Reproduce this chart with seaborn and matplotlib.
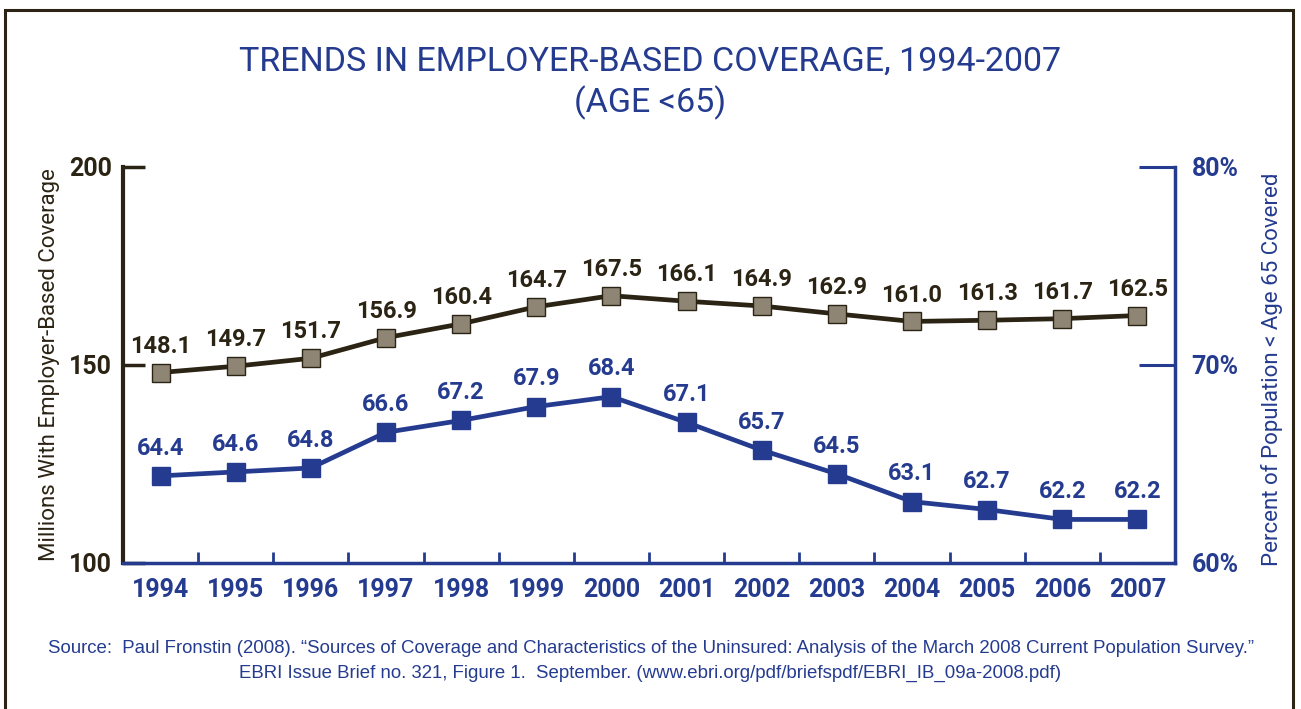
import matplotlib
matplotlib.use("Agg")
import matplotlib.pyplot as plt
from matplotlib.patches import Rectangle
from matplotlib.ticker import FixedLocator, FuncFormatter
import seaborn as sns
import pandas as pd

# Data
years = ["1994", "1995", "1996", "1997", "1998", "1999", "2000",
         "2001", "2002", "2003", "2004", "2005", "2006", "2007"]
millions_covered = [148.1, 149.7, 151.7, 156.9, 160.4, 164.7, 167.5,
                    166.1, 164.9, 162.9, 161.0, 161.3, 161.7, 162.5]
percent_covered = [64.4, 64.6, 64.8, 66.6, 67.2, 67.9, 68.4,
                   67.1, 65.7, 64.5, 63.1, 62.7, 62.2, 62.2]
left_ticks = [100, 150, 200]
right_ticks = [60, 70, 80]

title = "TRENDS IN EMPLOYER-BASED COVERAGE, 1994-2007\n(AGE <65)"
left_label = "Millions With Employer-Based Coverage"
right_label = "Percent of Population < Age 65 Covered"
source = ("Source:  Paul Fronstin (2008). \u201cSources of Coverage and Characteristics "
          "of the Uninsured: Analysis of the March 2008 Current Population Survey.\u201d\n"
          "EBRI Issue Brief no. 321, Figure 1.  September. "
          "(www.ebri.org/pdf/briefspdf/EBRI_IB_09a-2008.pdf)")

DARK = "#2b2313"
MARKER_GRAY = "#8e8574"
BLUE = "#243b8f"
MAIN_FONT = ["Roboto", "DejaVu Sans"]

df = pd.DataFrame({"idx": range(len(years)), "year": years,
                   "millions": millions_covered, "percent": percent_covered})

sns.set_theme(style="white")
plt.rcParams["font.family"] = MAIN_FONT

fig = plt.figure(figsize=(13.01, 7.09), dpi=100)
ax = fig.add_axes([123 / 1301, 1 - 563 / 709, (1175 - 123) / 1301, (563 - 167) / 709])
ax2 = ax.twinx()

# Outer frame
fig.patches.append(Rectangle((5 / 1301, -0.05), (1293 - 5) / 1301, 1.05 - 10 / 709,
                             transform=fig.transFigure, fill=False,
                             edgecolor=DARK, linewidth=2.2, zorder=0))

# Millions series (left axis)
sns.lineplot(data=df, x="idx", y="millions", ax=ax, color=DARK, linewidth=3.4,
             marker="s", markersize=12.5, markerfacecolor=MARKER_GRAY,
             markeredgecolor=DARK, markeredgewidth=1.0)
for i, v in zip(df["idx"], millions_covered):
    ax.annotate(f"{v:.1f}", (i, v), xytext=(0, 19), textcoords="offset points",
                ha="center", va="center", fontsize=17, fontweight="bold", color=DARK)

# Percent series (right axis)
sns.lineplot(data=df, x="idx", y="percent", ax=ax2, color=BLUE, linewidth=3.4,
             marker="s", markersize=12.5, markerfacecolor=BLUE,
             markeredgecolor=BLUE, markeredgewidth=1.0)
for i, v in zip(df["idx"], percent_covered):
    ax2.annotate(f"{v:.1f}", (i, v), xytext=(0, 20), textcoords="offset points",
                 ha="center", va="center", fontsize=17, fontweight="bold", color=BLUE)

ax.set_xlim(-0.5, len(years) - 0.5)
ax.set_ylim(left_ticks[0], left_ticks[-1])
ax2.set_ylim(right_ticks[0], right_ticks[-1])

# X axis: labels at category centers, tick marks between categories
ax.xaxis.set_major_locator(FixedLocator(list(range(len(years)))))
ax.set_xticklabels(years)
ax.xaxis.set_minor_locator(FixedLocator([i + 0.5 for i in range(len(years) - 1)]))
ax.tick_params(axis="x", which="major", length=0, pad=11, labelsize=18,
               labelcolor=BLUE)
ax.tick_params(axis="x", which="minor", direction="in", length=8, width=2,
               color=BLUE, bottom=True)
for lbl in ax.get_xticklabels():
    lbl.set_fontweight("bold")
ax.set_xlabel("")

# Left axis
ax.set_yticks(left_ticks)
ax.tick_params(axis="y", which="major", direction="in", length=16, width=2.5,
               color=DARK, labelsize=18, labelcolor=DARK, pad=8, left=True)
for lbl in ax.get_yticklabels():
    lbl.set_fontweight("bold")
ax.set_ylabel(left_label, fontsize=16, color=DARK)
ax.yaxis.set_label_coords(-0.060, 0.5)

# Right axis
ax2.set_yticks(right_ticks)
ax2.yaxis.set_major_formatter(FuncFormatter(lambda v, p: f"{v:.0f}%"))
ax2.tick_params(axis="y", which="major", direction="in", length=26, width=2.2,
                color=BLUE, labelsize=18, labelcolor=BLUE, pad=12, right=True)
for lbl in ax2.get_yticklabels():
    lbl.set_fontweight("bold")
ax2.set_ylabel(right_label, fontsize=16, color=BLUE)
ax2.yaxis.set_label_coords(1.082, 0.49)

# Spines
for a in (ax, ax2):
    a.spines["top"].set_visible(False)
    a.grid(False)
ax.spines["left"].set_color(DARK)
ax.spines["left"].set_linewidth(3)
ax.spines["bottom"].set_color(BLUE)
ax.spines["bottom"].set_linewidth(2.5)
ax.spines["right"].set_visible(False)
ax2.spines["left"].set_visible(False)
ax2.spines["bottom"].set_visible(False)
ax2.spines["right"].set_color(BLUE)
ax2.spines["right"].set_linewidth(2.5)
ax2.set_zorder(ax.get_zorder() + 1)
ax2.patch.set_visible(False)

# Title and source
fig.text(0.5, 1 - 83 / 709, title, ha="center", va="center", color=BLUE,
         fontsize=24.5, family=MAIN_FONT, linespacing=1.3)
fig.text(0.5, 1 - 661 / 709, source, ha="center", va="center", color=BLUE,
         fontsize=13.4, family=["Liberation Sans", "DejaVu Sans"], linespacing=1.62)

fig.savefig("out.png", dpi=100)
